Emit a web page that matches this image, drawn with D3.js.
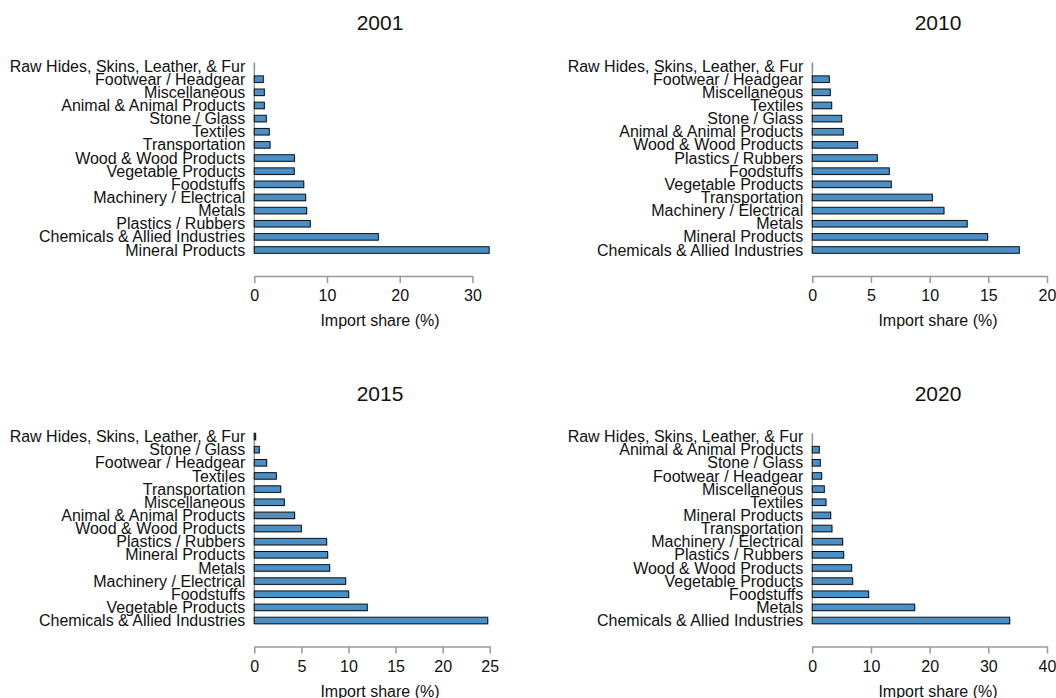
<!DOCTYPE html>
<html>
<head>
<meta charset="utf-8">
<script src="https://cdn.jsdelivr.net/npm/d3@7"></script>
<style>
  body { margin: 0; background: #fff; }
  svg { display: block; font-family: "Liberation Sans", Arial, Helvetica, sans-serif; }
</style>
</head>
<body>
<svg id="chart" width="1056" height="698"></svg>
<script>
// Import shares by product section, listed top to bottom as drawn
const cats2001 = ["Raw Hides, Skins, Leather, & Fur", "Footwear / Headgear", "Miscellaneous",
  "Animal & Animal Products", "Stone / Glass", "Textiles", "Transportation", "Wood & Wood Products",
  "Vegetable Products", "Foodstuffs", "Machinery / Electrical", "Metals", "Plastics / Rubbers",
  "Chemicals & Allied Industries", "Mineral Products"];
const vals2001 = [0.05, 1.24, 1.38, 1.38, 1.65, 2.06, 2.16, 5.52, 5.49, 6.8, 7.06, 7.2, 7.7, 17.06, 32.3];

const cats2010 = ["Raw Hides, Skins, Leather, & Fur", "Footwear / Headgear", "Miscellaneous",
  "Textiles", "Stone / Glass", "Animal & Animal Products", "Wood & Wood Products", "Plastics / Rubbers",
  "Foodstuffs", "Vegetable Products", "Transportation", "Machinery / Electrical", "Metals",
  "Mineral Products", "Chemicals & Allied Industries"];
const vals2010 = [0.05, 1.45, 1.53, 1.65, 2.5, 2.64, 3.86, 5.54, 6.56, 6.73, 10.23, 11.22, 13.2, 14.94, 17.64];

const cats2015 = ["Raw Hides, Skins, Leather, & Fur", "Stone / Glass", "Footwear / Headgear",
  "Textiles", "Transportation", "Miscellaneous", "Animal & Animal Products", "Wood & Wood Products",
  "Plastics / Rubbers", "Mineral Products", "Metals", "Machinery / Electrical", "Foodstuffs",
  "Vegetable Products", "Chemicals & Allied Industries"];
const vals2015 = [0.14, 0.53, 1.31, 2.34, 2.8, 3.19, 4.28, 5.0, 7.68, 7.79, 8.0, 9.7, 10.02, 12.0, 24.79];

const cats2020 = ["Raw Hides, Skins, Leather, & Fur", "Animal & Animal Products", "Stone / Glass",
  "Footwear / Headgear", "Miscellaneous", "Textiles", "Mineral Products", "Transportation",
  "Machinery / Electrical", "Plastics / Rubbers", "Wood & Wood Products", "Vegetable Products",
  "Foodstuffs", "Metals", "Chemicals & Allied Industries"];
const vals2020 = [0.05, 1.19, 1.36, 1.59, 2.05, 2.33, 3.13, 3.35, 5.17, 5.34, 6.7, 6.88, 9.6, 17.44, 33.64];

const ticks2001 = [0, 10, 20, 30];
const ticks2010 = [0, 5, 10, 15, 20];
const ticks2015 = [0, 5, 10, 15, 20, 25];
const ticks2020 = [0, 10, 20, 30, 40];

const years = ["2001", "2010", "2015", "2020"];
const xLabel = "Import share (%)";

const panels = [
  { title: years[0], cats: cats2001, vals: vals2001, ticks: ticks2001 },
  { title: years[1], cats: cats2010, vals: vals2010, ticks: ticks2010 },
  { title: years[2], cats: cats2015, vals: vals2015, ticks: ticks2015 },
  { title: years[3], cats: cats2020, vals: vals2020, ticks: ticks2020 }
];

// Panel geometry: where zero and the last tick sit, and vertical shift of the row
const layout = [
  { zero: 254.3, end: 472.4, dy: 0,     cx: 380 },
  { zero: 812.3, end: 1047,  dy: 0,     cx: 938 },
  { zero: 254.3, end: 489.7, dy: 370.5, cx: 380 },
  { zero: 812.3, end: 1047,  dy: 370.5, cx: 938 }
];

const BAR_FILL = "#4a90c6";
const AXIS_GREY = "#999";

const svg = d3.select("#chart");

panels.forEach((p, i) => {
  const L = layout[i];
  const g = svg.append("g");
  const lastTick = p.ticks[p.ticks.length - 1];

  const x = d3.scaleLinear().domain([0, lastTick]).range([L.zero, L.end]);
  const y = d3.scaleBand()
    .domain(p.cats)
    .range([59.43 + L.dy, 256.57 + L.dy])
    .paddingInner(0.5)
    .paddingOuter(0.25);

  const rows = p.cats.map((c, k) => ({ cat: c, v: p.vals[k] }));

  // title
  g.append("text")
    .attr("x", L.cx).attr("y", 30 + L.dy)
    .attr("text-anchor", "middle")
    .attr("font-size", 21)
    .attr("fill", "#111")
    .text(p.title);

  // left baseline
  g.append("line")
    .attr("x1", x(0)).attr("x2", x(0))
    .attr("y1", y(p.cats[0])).attr("y2", y(p.cats[p.cats.length - 1]) + y.bandwidth())
    .attr("stroke", AXIS_GREY).attr("stroke-width", 1.5);

  // soft edge under each bar
  g.selectAll("rect.shadow").data(rows).join("rect")
    .attr("class", "shadow")
    .attr("x", x(0) + 1)
    .attr("y", d => y(d.cat) + 1)
    .attr("width", d => Math.max(0, x(d.v) - x(0)))
    .attr("height", y.bandwidth())
    .attr("fill", "#d4d4d4");

  // bars
  g.selectAll("rect.bar").data(rows).join("rect")
    .attr("class", "bar")
    .attr("x", x(0))
    .attr("y", d => y(d.cat))
    .attr("width", d => x(d.v) - x(0))
    .attr("height", y.bandwidth())
    .attr("fill", BAR_FILL)
    .attr("stroke", d => (x(d.v) - x(0)) < 1 ? "none" : "#111")
    .attr("stroke-width", 1);

  // category labels
  g.selectAll("text.cat").data(rows).join("text")
    .attr("class", "cat")
    .attr("x", x(0) - 9)
    .attr("y", d => y(d.cat) + y.bandwidth() / 2)
    .attr("dy", "0.35em")
    .attr("text-anchor", "end")
    .attr("font-size", 16)
    .attr("fill", "#111")
    .text(d => d.cat);

  // x axis
  const ax = g.append("g")
    .attr("transform", `translate(0,${276 + L.dy})`)
    .call(d3.axisBottom(x).tickValues(p.ticks).tickSize(7).tickSizeOuter(0).tickPadding(7));
  ax.select(".domain").attr("stroke", AXIS_GREY).attr("stroke-width", 1.5);
  ax.selectAll(".tick line").attr("stroke", AXIS_GREY).attr("stroke-width", 1.5);
  ax.selectAll(".tick text")
    .attr("font-size", 16)
    .attr("font-family", "Liberation Sans, Arial, sans-serif")
    .attr("fill", "#111");

  // axis title
  g.append("text")
    .attr("x", L.cx).attr("y", 326 + L.dy)
    .attr("text-anchor", "middle")
    .attr("font-size", 16)
    .attr("fill", "#111")
    .text(xLabel);
});
</script>
</body>
</html>
